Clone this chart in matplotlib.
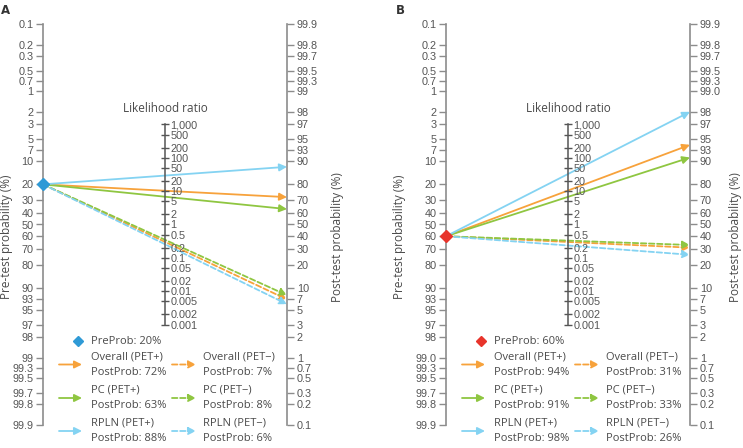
import matplotlib
matplotlib.use('Agg')
import matplotlib.pyplot as plt
from matplotlib.patches import ConnectionPatch, FancyArrowPatch
from matplotlib.lines import Line2D
from matplotlib.ticker import FixedLocator, FixedFormatter, NullLocator

W, H = 743, 448

# probability axis ticks (%), likelihood ratio ticks
prob_ticks = [0.1, 0.2, 0.3, 0.5, 0.7, 1, 2, 3, 5, 7, 10, 20, 30, 40, 50,
              60, 70, 80, 90, 93, 95, 97, 98, 99, 99.3, 99.5, 99.7, 99.8, 99.9]
lr_ticks = [1000, 500, 200, 100, 50, 20, 10, 5, 2, 1, 0.5, 0.2, 0.1, 0.05,
            0.02, 0.01, 0.005, 0.002, 0.001]
lr_labels = ['1,000', '500', '200', '100', '50', '20', '10', '5', '2', '1',
             '0.5', '0.2', '0.1', '0.05', '0.02', '0.01', '0.005', '0.002', '0.001']

tests = ['Overall', 'PC', 'RPLN']
colors = ['#f7a23b', '#8fc641', '#84d3f2']

pre_a = 20
post_pos_a = [72, 63, 88]
post_neg_a = [7, 8, 6]

pre_b = 60
post_pos_b = [94, 91, 98]
post_neg_b = [31, 33, 26]

GREY = '#8c8c8c'
TICK_TXT = '#555555'
TXT = '#4a4a4a'
TICK_FONT = ['Liberation Sans', 'DejaVu Sans']
LAB_FONT = ['Open Sans', 'DejaVu Sans']

fig = plt.figure(figsize=(W / 100, H / 100), dpi=100)


def fx(px):
    return px / W


def fy(px):
    return 1 - px / H


def prob_label(v, ninety_nine):
    if v == 99:
        return ninety_nine
    return f'{v:g}'


def panel(x0, pre, post_pos, post_neg, dot_color, ninety_nine):
    width = 244
    ax = fig.add_axes([fx(x0), 23.5 / H, width / W, 400 / H])
    ax.patch.set_visible(False)
    ax.set_xlim(0, 1)
    ax.set_yscale('logit')
    ax.set_ylim(0.999, 0.001)
    for s in ['top', 'bottom', 'right']:
        ax.spines[s].set_visible(False)
    ax.spines['left'].set_color(GREY)
    ax.spines['left'].set_linewidth(1.2)
    ax.set_xticks([])
    labels = [prob_label(v, ninety_nine) for v in prob_ticks]
    ax.yaxis.set_major_locator(FixedLocator([v / 100 for v in prob_ticks]))
    ax.yaxis.set_major_formatter(FixedFormatter(labels))
    ax.yaxis.set_minor_locator(NullLocator())
    ax.tick_params(axis='y', length=5, width=1, color=GREY, labelcolor=TICK_TXT,
                   labelsize=7.8, pad=2)
    for t in ax.get_yticklabels():
        t.set_family(TICK_FONT)

    # post-test axis on the right
    ax2 = ax.twinx()
    ax2.set_yscale('logit')
    ax2.set_ylim(0.001, 0.999)
    for s in ['top', 'bottom', 'left']:
        ax2.spines[s].set_visible(False)
    ax2.spines['right'].set_color(GREY)
    ax2.spines['right'].set_linewidth(1.2)
    ax2.yaxis.set_major_locator(FixedLocator([v / 100 for v in prob_ticks]))
    ax2.yaxis.set_major_formatter(FixedFormatter(labels))
    ax2.yaxis.set_minor_locator(NullLocator())
    ax2.tick_params(axis='y', length=5, width=1, color=GREY, labelcolor=TICK_TXT,
                    labelsize=7.8, pad=2)
    for t in ax2.get_yticklabels():
        t.set_family(TICK_FONT)

    # likelihood ratio axis in the middle
    ax3 = ax.twinx()
    ax3.set_yscale('log')
    ax3.set_ylim(1 / 998001, 998001)
    for s in ['top', 'bottom', 'left']:
        ax3.spines[s].set_visible(False)
    ax3.spines['right'].set_position(('axes', 0.5))
    ax3.spines['right'].set_bounds(0.001, 1000)
    ax3.spines['right'].set_color('#555555')
    ax3.spines['right'].set_linewidth(1.1)
    ax3.yaxis.set_major_locator(FixedLocator(lr_ticks))
    ax3.yaxis.set_major_formatter(FixedFormatter(lr_labels))
    ax3.yaxis.set_minor_locator(NullLocator())
    ax3.tick_params(axis='y', direction='inout', length=6, width=1, color='#555555',
                    labelcolor=TICK_TXT, labelsize=7.8, pad=1)
    for t in ax3.get_yticklabels():
        t.set_family(TICK_FONT)

    # nomogram lines
    for posts, ls in [(post_neg, (0, (3, 1.5))), (post_pos, '-')]:
        for post, c in zip(posts, colors):
            con = ConnectionPatch(xyA=(0, pre / 100), coordsA=ax.transData,
                                  xyB=(1, post / 100), coordsB=ax2.transData,
                                  arrowstyle='-|>', mutation_scale=11, color=c,
                                  lw=1.3, linestyle=ls, shrinkA=0, shrinkB=0,
                                  clip_on=False)
            ax3.add_artist(con)
    ax3.add_line(Line2D([0], [pre / 100], transform=ax.transData, marker='D',
                        ms=6, color=dot_color, clip_on=False, zorder=6))

    cx = x0 + width / 2
    fig.text(fx(cx), fy(108), 'Likelihood ratio', ha='center', va='center',
             fontsize=8.5, color=TXT, family=LAB_FONT)

    # legend
    fig.add_artist(Line2D([fx(x0 + 35)], [fy(341)], transform=fig.transFigure,
                          marker='D', ms=5, color=dot_color, lw=0))
    fig.text(fx(x0 + 48), fy(341), f'PreProb: {pre}%', ha='left', va='center',
             fontsize=8, color=TXT, family=LAB_FONT)
    rows = [364.5, 398, 431]
    for name, c, pp, pn, yr in zip(tests, colors, post_pos, post_neg, rows):
        for (a0, a1, tx, ls, sign, post) in [(16, 39, 48, '-', '+', pp),
                                             (129, 153, 160, (0, (3, 1.5)), '\u2212', pn)]:
            arr = FancyArrowPatch((fx(x0 + a0), fy(yr)), (fx(x0 + a1), fy(yr)),
                                  transform=fig.transFigure, arrowstyle='-|>',
                                  mutation_scale=11, color=c, lw=1.3, linestyle=ls,
                                  shrinkA=0, shrinkB=0)
            fig.add_artist(arr)
            fig.text(fx(x0 + tx), fy(yr), f'{name} (PET{sign})\nPostProb: {post}%',
                     ha='left', va='center', fontsize=8, color=TXT,
                     family=LAB_FONT, linespacing=1.55)


panel(43, pre_a, post_pos_a, post_neg_a, '#2f9ad6', '99')
panel(446, pre_b, post_pos_b, post_neg_b, '#e8342b', '99.0')

# axis titles and panel letters
for x in [7, 400]:
    fig.text(fx(x), fy(237), 'Pre-test probability (%)', rotation=90, ha='center',
             va='center', fontsize=8.5, color=TXT, family=LAB_FONT)
for x in [337, 736]:
    fig.text(fx(x), fy(237), 'Post-test probability (%)', rotation=90, ha='center',
             va='center', fontsize=8.5, color=TXT, family=LAB_FONT)
fig.text(fx(1), fy(10), 'A', ha='left', va='center', fontsize=8.5,
         fontweight='bold', color='#333333')
fig.text(fx(396), fy(10), 'B', ha='left', va='center', fontsize=8.5,
         fontweight='bold', color='#333333')

fig.savefig('out.png', dpi=100)
